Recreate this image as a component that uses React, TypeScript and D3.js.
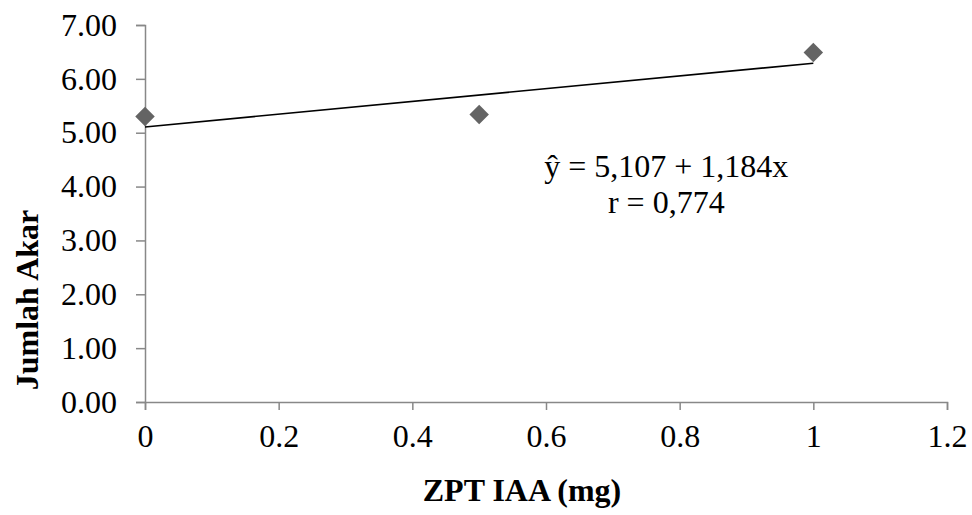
import React, { useRef, useEffect } from "react";
import * as d3 from "d3";

// observed data (ZPT IAA dose vs. jumlah akar)
const doses = [0, 0.5, 1];
const rootCounts = [5.3, 5.34, 6.49];

// fitted trend: y = 5.107 + 1.184x
const intercept = 5.107;
const slope = 1.184;

const xTicks = [0, 0.2, 0.4, 0.6, 0.8, 1, 1.2];
const yTicks = [0, 1, 2, 3, 4, 5, 6, 7];

const equationLines = ["ŷ = 5,107 + 1,184x", "r = 0,774"];

export default function App() {
  const svgRef = useRef<SVGSVGElement>(null);

  useEffect(() => {
    const svg = d3.select(svgRef.current);
    svg.selectAll("*").remove();

    const width = 972;
    const height = 515;
    const margin = { top: 25, right: 25, bottom: 113, left: 145 };
    const innerW = width - margin.left - margin.right;
    const innerH = height - margin.top - margin.bottom;
    const font = "'Liberation Serif', 'Times New Roman', serif";
    const axisColor = "#888888";

    const g = svg
      .append("g")
      .attr("transform", `translate(${margin.left},${margin.top})`);

    const x = d3.scaleLinear().domain([0, 1.2]).range([0, innerW]);
    const y = d3.scaleLinear().domain([0, 7]).range([innerH, 0]);

    // y axis
    const yAxis = g
      .append("g")
      .call(
        d3
          .axisLeft(y)
          .tickValues(yTicks)
          .tickFormat(d3.format(".2f"))
          .tickSize(9)
          .tickSizeOuter(9)
          .tickPadding(19)
      );
    yAxis.select(".domain").attr("stroke", axisColor).attr("stroke-width", 1.5);
    yAxis.selectAll(".tick line").attr("stroke", axisColor).attr("stroke-width", 1.5);
    yAxis
      .selectAll(".tick text")
      .attr("fill", "#000")
      .style("font-family", font)
      .style("font-size", "32px");

    // x axis
    const xAxis = g
      .append("g")
      .attr("transform", `translate(0,${innerH})`)
      .call(
        d3
          .axisBottom(x)
          .tickValues(xTicks)
          .tickFormat(d3.format(""))
          .tickSize(8)
          .tickSizeOuter(8)
          .tickPadding(14)
      );
    xAxis.select(".domain").attr("stroke", axisColor).attr("stroke-width", 1.5);
    xAxis.selectAll(".tick line").attr("stroke", axisColor).attr("stroke-width", 1.5);
    xAxis
      .selectAll(".tick text")
      .attr("fill", "#000")
      .style("font-family", font)
      .style("font-size", "32px");

    // trend line over the observed range
    const trend = d3
      .line<number>()
      .x((d) => x(d))
      .y((d) => y(intercept + slope * d));
    g.append("path")
      .datum([d3.min(doses)!, d3.max(doses)!])
      .attr("d", trend)
      .attr("fill", "none")
      .attr("stroke", "#000")
      .attr("stroke-width", 1.6);

    // diamond markers
    const diamond = d3.symbol().type(d3.symbolSquare).size(190);
    g.selectAll("path.pt")
      .data(doses.map((d, i) => ({ dose: d, value: rootCounts[i] })))
      .join("path")
      .attr("class", "pt")
      .attr("d", diamond)
      .attr(
        "transform",
        (d) => `translate(${x(d.dose)},${y(d.value)}) rotate(45)`
      )
      .attr("fill", "#646464");

    // equation text
    const eqX = x(0.78);
    g.append("text")
      .attr("y", y(4.17))
      .attr("text-anchor", "middle")
      .style("font-family", font)
      .style("font-size", "32px")
      .selectAll("tspan")
      .data(equationLines)
      .join("tspan")
      .attr("x", eqX)
      .attr("dy", (_, i) => (i === 0 ? 0 : 36))
      .text((d) => d);

    // axis titles
    svg
      .append("text")
      .attr("x", 522)
      .attr("y", 501)
      .attr("text-anchor", "middle")
      .style("font-family", font)
      .style("font-size", "32px")
      .style("font-weight", "bold")
      .text("ZPT IAA (mg)");

    svg
      .append("text")
      .attr("transform", `translate(38,300) rotate(-90)`)
      .attr("text-anchor", "middle")
      .style("font-family", font)
      .style("font-size", "32px")
      .style("font-weight", "bold")
      .text("Jumlah Akar");
  }, []);

  return (
    <svg
      ref={svgRef}
      width={972}
      height={515}
      style={{ position: "absolute", left: 0, top: 0, background: "#fff" }}
    />
  );
}
